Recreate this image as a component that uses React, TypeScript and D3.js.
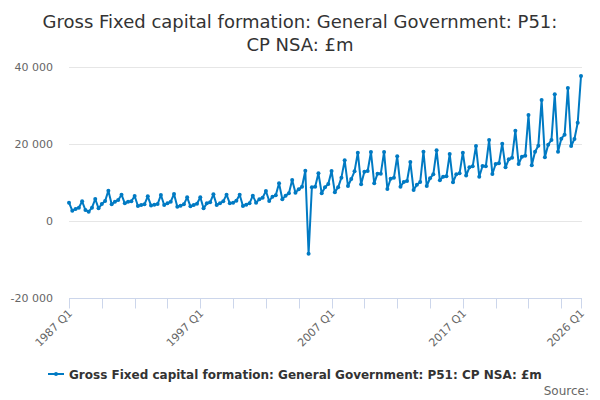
import React, { useEffect, useRef } from 'react'
import * as d3 from 'd3'

const chartTitle = ['Gross Fixed capital formation: General Government: P51:', 'CP NSA: £m']
const seriesName = 'Gross Fixed capital formation: General Government: P51: CP NSA: £m'
const startYear = 1987

// quarterly values, one row per year (Q1..Q4), £m
const values: number[] = [
  4760, 2680, 3120, 3460,
  5110, 2860, 2420, 3460,
  5710, 3290, 4410, 5190,
  7880, 4330, 5020, 5450,
  6840, 4590, 5020, 5110,
  6490, 3900, 4160, 4330,
  6400, 4000, 4200, 4400,
  6750, 4160, 4590, 5020,
  7010, 3720, 3980, 4330,
  6150, 3810, 4160, 4500,
  6150, 3290, 4590, 4850,
  6920, 4160, 4590, 5110,
  6840, 4590, 4760, 5280,
  6800, 3900, 4240, 4590,
  6580, 4760, 5630, 6060,
  7790, 5190, 6320, 6670,
  9780, 5630, 6580, 7190,
  10650, 7360, 8230, 8910,
  13070, -8500, 8750, 8910,
  12390, 7190, 8750, 9600,
  12990, 7450, 8750, 11250,
  15760, 9090, 10900, 12900,
  17740, 9520, 12810, 12990,
  17920, 9780, 12290, 12300,
  17920, 8310, 10990, 11250,
  16800, 8910, 10130, 10400,
  15320, 8050, 9430, 10130,
  18000, 9090, 11100, 12120,
  18350, 10560, 11510, 11600,
  17400, 10040, 12120, 12380,
  17740, 11800, 13940, 14200,
  19480, 11510, 14280, 14200,
  21030, 12200, 14800, 14980,
  20080, 13940, 16020, 16440,
  23450, 14800, 16700, 16960,
  27530, 14460, 18000, 19560,
  31420, 16540, 19820, 21030,
  32900, 18000, 21380, 22410,
  34540, 19480, 21300, 25530,
  37660,
]

const quarters: string[] = values.map((_, i) => `${startYear + Math.floor(i / 4)} Q${(i % 4) + 1}`)
const labelledQuarters = ['1987 Q1', '1997 Q1', '2007 Q1', '2017 Q1', '2026 Q1']
const yTicks = [-20000, 0, 20000, 40000]

const width = 600
const height = 400
const blue = '#007ac3'
const font = '"DejaVu Sans", sans-serif'

const App: React.FC = () => {
  const svgRef = useRef(null)

  useEffect(() => {
    if (!svgRef.current) return
    const svg = d3.select(svgRef.current)
    svg.selectAll('*').remove()

    const x = d3.scaleLinear().domain([0, values.length - 1]).range([69, 581])
    const y = d3.scaleLinear().domain([-20000, 40000]).range([298, 67])

    svg.append('rect').attr('width', width).attr('height', height).attr('fill', '#fff')

    // title
    svg.append('text')
      .attr('x', width / 2)
      .attr('text-anchor', 'middle')
      .style('font-family', font)
      .style('font-size', '18px')
      .attr('fill', '#333')
      .selectAll('tspan')
      .data(chartTitle)
      .join('tspan')
      .attr('x', width / 2)
      .attr('y', (d, i) => 28 + i * 23)
      .text(d => d)

    // grid + y labels
    const fmt = (v: number) => d3.format(',')(v).replace(/,/g, ' ').replace('−', '-')
    svg.append('g')
      .selectAll('line')
      .data(yTicks.filter(t => t !== -20000))
      .join('line')
      .attr('x1', 69).attr('x2', 582)
      .attr('y1', d => Math.round(y(d)) + 0.5).attr('y2', d => Math.round(y(d)) + 0.5)
      .attr('stroke', '#e6e6e6')

    svg.append('g')
      .selectAll('text')
      .data(yTicks)
      .join('text')
      .attr('x', 53)
      .attr('y', d => y(d) + 4)
      .attr('text-anchor', 'end')
      .style('font-family', font)
      .style('font-size', '11px')
      .attr('fill', '#666')
      .text(d => fmt(d))

    // x axis
    const axisY = Math.round(y(-20000)) + 0.5
    svg.append('line')
      .attr('x1', 69).attr('x2', 582)
      .attr('y1', axisY).attr('y2', axisY)
      .attr('stroke', '#ccd6eb')

    const tickIdx = d3.range(0, values.length, 10).concat([values.length - 1])
    svg.append('g')
      .selectAll('line')
      .data(tickIdx)
      .join('line')
      .attr('x1', d => Math.round(x(d)) + 0.5).attr('x2', d => Math.round(x(d)) + 0.5)
      .attr('y1', axisY).attr('y2', axisY + 10)
      .attr('stroke', '#ccd6eb')

    svg.append('g')
      .selectAll('text')
      .data(labelledQuarters)
      .join('text')
      .attr('text-anchor', 'end')
      .attr('transform', d => `translate(${x(quarters.indexOf(d)) + 4}, 314) rotate(-45)`)
      .style('font-family', font)
      .style('font-size', '11px')
      .attr('fill', '#666')
      .text(d => d)

    // series
    const line = d3.line<number>().x((d, i) => x(i)).y(d => y(d))
    svg.append('path')
      .datum(values)
      .attr('d', line)
      .attr('fill', 'none')
      .attr('stroke', blue)
      .attr('stroke-width', 2)
      .attr('stroke-linejoin', 'round')

    svg.append('g')
      .selectAll('circle')
      .data(values)
      .join('circle')
      .attr('cx', (d, i) => x(i))
      .attr('cy', d => y(d))
      .attr('r', 2)
      .attr('fill', blue)

    // legend
    const lg = svg.append('g').attr('transform', 'translate(48, 374)')
    lg.append('line').attr('x1', 0).attr('x2', 16).attr('y1', 0).attr('y2', 0)
      .attr('stroke', blue).attr('stroke-width', 2)
    lg.append('circle').attr('cx', 8).attr('cy', 0).attr('r', 2).attr('fill', blue)
    lg.append('text')
      .attr('x', 21).attr('y', 4.5)
      .style('font-family', font)
      .style('font-size', '12px')
      .style('font-weight', 'bold')
      .attr('fill', '#333')
      .text(seriesName)

    svg.append('text')
      .attr('x', 589).attr('y', 395)
      .attr('text-anchor', 'end')
      .style('font-family', font)
      .style('font-size', '12px')
      .attr('fill', '#666')
      .text('Source:')
  }, [])

  return (
    <div style={{ position: 'absolute', left: 0, top: 0 }}>
      <svg ref={svgRef} width={width} height={height} />
    </div>
  )
}

export default App
